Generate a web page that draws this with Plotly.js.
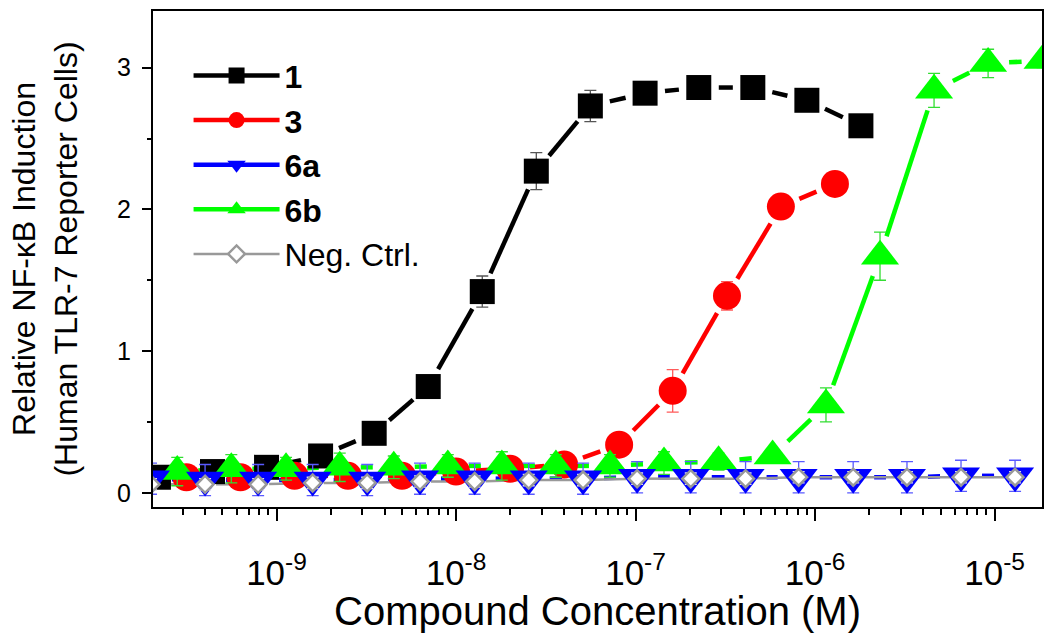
<!DOCTYPE html>
<html>
<head>
<meta charset="utf-8">
<script src="https://cdn.plot.ly/plotly-3.0.1.min.js"></script>
<style>body{margin:0;background:#fff}</style>
</head>
<body>
<div id="chart" style="width:1050px;height:633px"></div>
<script>
// compound concentrations (M), 2-fold dilutions
var conc1 = [2.2e-10, 4.4e-10, 8.8e-10, 1.76e-9, 3.5e-9, 7.0e-9, 1.4e-8, 2.8e-8, 5.6e-8, 1.13e-7, 2.25e-7, 4.5e-7, 9.0e-7, 1.8e-6];
var val1  = [0.11, 0.15, 0.18, 0.26, 0.42, 0.75, 1.42, 2.27, 2.73, 2.82, 2.86, 2.86, 2.77, 2.59];
var err1  = [0.03, 0.03, 0.03, 0.03, 0.04, 0.06, 0.11, 0.13, 0.11, 0.05, 0.04, 0.04, 0.05, 0.05];

var conc3 = [3.15e-10, 6.3e-10, 1.26e-9, 2.5e-9, 5.0e-9, 1.0e-8, 2.0e-8, 4.0e-8, 8.1e-8, 1.61e-7, 3.23e-7, 6.45e-7, 1.29e-6];
var val3  = [0.11, 0.11, 0.12, 0.12, 0.12, 0.15, 0.17, 0.20, 0.34, 0.72, 1.39, 2.02, 2.18];
var err3  = [0.04, 0.04, 0.05, 0.05, 0.05, 0.05, 0.05, 0.05, 0.06, 0.15, 0.10, 0.05, 0.04];

var conc6b = [2.8e-10, 5.6e-10, 1.13e-9, 2.25e-9, 4.5e-9, 9.0e-9, 1.8e-8, 3.6e-8, 7.2e-8, 1.44e-7, 2.9e-7, 5.8e-7, 1.15e-6, 2.3e-6, 4.6e-6, 9.2e-6, 1.85e-5];
var val6b  = [0.15, 0.17, 0.17, 0.18, 0.18, 0.19, 0.19, 0.19, 0.19, 0.21, 0.22, 0.26, 0.62, 1.67, 2.84, 3.03, 3.05];
var err6b  = [0.10, 0.10, 0.08, 0.10, 0.08, 0.08, 0.10, 0.08, 0.08, 0.08, 0.06, 0.05, 0.12, 0.17, 0.12, 0.10, 0.05];

var conc6a = [2.0e-10, 4.0e-10, 7.9e-10, 1.59e-9, 3.2e-9, 6.3e-9, 1.27e-8, 2.54e-8, 5.1e-8, 1.02e-7, 2.03e-7, 4.1e-7, 8.1e-7, 1.63e-6, 3.25e-6, 6.5e-6, 1.3e-5];
var val6a  = [0.10, 0.09, 0.09, 0.09, 0.09, 0.10, 0.10, 0.10, 0.10, 0.11, 0.11, 0.11, 0.11, 0.11, 0.11, 0.12, 0.12];
var err6a  = [0.11, 0.11, 0.11, 0.11, 0.11, 0.11, 0.11, 0.11, 0.11, 0.11, 0.11, 0.11, 0.11, 0.11, 0.11, 0.11, 0.11];

var concNeg = conc6a;
var valNeg  = [0.06, 0.06, 0.06, 0.07, 0.07, 0.08, 0.08, 0.09, 0.09, 0.10, 0.10, 0.10, 0.11, 0.11, 0.11, 0.11, 0.11];
var errNeg  = [0.04, 0.04, 0.04, 0.04, 0.04, 0.04, 0.04, 0.04, 0.04, 0.04, 0.04, 0.04, 0.04, 0.04, 0.04, 0.04, 0.04];

var xTickVals = [1e-9, 1e-8, 1e-7, 1e-6, 1e-5];
var xTickText = ["10<sup>-9</sup>", "10<sup>-8</sup>", "10<sup>-7</sup>", "10<sup>-6</sup>", "10<sup>-5</sup>"];

var FONT = "Liberation Sans, Arial, sans-serif";
var xRange = [-9.688, -4.736], yRange = [-0.10, 3.40];
var plotW = 889, plotH = 496;
var pxX = plotW / (xRange[1] - xRange[0]);
var pxY = plotH / (yRange[1] - yRange[0]);

// line pieces that stop short of each symbol (Origin's "gap to symbol")
function gapLine(xs, ys, gap) {
  var lx = [], ly = [];
  for (var i = 0; i < xs.length - 1; i++) {
    var a = Math.log10(xs[i]), b = Math.log10(xs[i + 1]);
    var dx = (b - a) * pxX, dy = (ys[i + 1] - ys[i]) * pxY;
    var len = Math.sqrt(dx * dx + dy * dy);
    if (len <= 2 * gap) continue;
    var f = gap / len;
    lx.push(Math.pow(10, a + (b - a) * f), Math.pow(10, b - (b - a) * f), null);
    ly.push(ys[i] + (ys[i + 1] - ys[i]) * f, ys[i + 1] - (ys[i + 1] - ys[i]) * f, null);
  }
  return { x: lx, y: ly };
}

// points split by nulls so the marker trace draws no line of its own
function spaced(arr) {
  var out = [];
  arr.forEach(function (v) { out.push(v, null); });
  return out;
}

var series = [
  { name: "<b>1</b>", x: conc1, y: val1, e: err1, color: "#000000", ecolor: "#555555", symbol: "square", size: 25, gap: 20, lw: 4.5, rank: 1 },
  { name: "<b>3</b>", x: conc3, y: val3, e: err3, color: "#ff0000", ecolor: "#ff5a5a", symbol: "circle", size: 28, gap: 20, lw: 4.5, rank: 2 },
  { name: "<b>6b</b>", x: conc6b, y: val6b, e: err6b, color: "#00ff00", ecolor: "#33dd33", symbol: "triangle-up", size: 33, gap: 21, lw: 4.5, rank: 4 },
  { name: "<b>6a</b>", x: conc6a, y: val6a, e: err6a, color: "#0000ff", ecolor: "#5a5aff", symbol: "triangle-down", size: 33, gap: 21, lw: 4.5, rank: 3 },
  { name: "Neg. Ctrl.", x: concNeg, y: valNeg, e: errNeg, color: "#999999", ecolor: "#dcdcf0", symbol: "diamond", size: 13, gap: 11, lw: 2.5, rank: 5, open: true }
];

var data = [];
series.forEach(function (s) {
  var g = gapLine(s.x, s.y, s.gap);
  data.push({
    type: "scatter", mode: "lines", x: g.x, y: g.y, showlegend: false,
    line: { color: s.color, width: s.lw }, hoverinfo: "skip"
  });
});
series.forEach(function (s) {
  data.push({
    type: "scatter", mode: "lines+markers", name: s.name, legendrank: s.rank,
    x: spaced(s.x), y: spaced(s.y), connectgaps: false,
    line: { color: s.color, width: s.lw },
    marker: s.open
      ? { symbol: s.symbol, size: s.size, color: "#ffffff", line: { color: s.color, width: 2.5 } }
      : { symbol: s.symbol, size: s.size, color: s.color, line: { width: 0 } },
    error_y: { type: "data", array: spaced(s.e), visible: true, color: s.ecolor, thickness: 1.3, width: 6 }
  });
});

var layout = {
  width: 1050, height: 633,
  margin: { l: 153, r: 8, t: 11, b: 126 },
  paper_bgcolor: "#ffffff", plot_bgcolor: "#ffffff",
  font: { family: FONT, color: "#000000" },
  showlegend: true,
  legend: {
    x: 0.04, y: 0.925, xanchor: "left", yanchor: "top",
    bgcolor: "rgba(0,0,0,0)", font: { size: 32, family: FONT },
    itemwidth: 86
  },
  xaxis: {
    type: "log", range: xRange,
    showline: true, mirror: true, linecolor: "#000", linewidth: 2,
    showgrid: false, zeroline: false,
    tickmode: "array", tickvals: xTickVals, ticktext: xTickText,
    ticks: "outside", ticklen: 12, tickwidth: 2, tickcolor: "#000",
    ticklabelstandoff: 22,
    tickfont: { size: 35, family: FONT },
    minor: { ticks: "outside", ticklen: 6, tickwidth: 2, tickcolor: "#000", dtick: "D1" },
    title: { text: "Compound Concentration (M)", font: { size: 40, family: FONT }, standoff: 6 }
  },
  yaxis: {
    range: yRange,
    showline: true, mirror: true, linecolor: "#000", linewidth: 2,
    showgrid: false, zeroline: false,
    tick0: 0, dtick: 1,
    ticks: "outside", ticklen: 9, tickwidth: 2, tickcolor: "#000",
    ticklabelstandoff: 6,
    tickfont: { size: 25, family: FONT },
    minor: { ticks: "outside", ticklen: 4, tickwidth: 2, tickcolor: "#000", dtick: 0.5 },
    title: { text: "Relative NF-\u03baB Induction<br>(Human TLR-7 Reporter Cells)", font: { size: 32, family: FONT }, standoff: 30 }
  }
};

Plotly.newPlot("chart", data, layout, { displayModeBar: false, responsive: false });
</script>
</body>
</html>
